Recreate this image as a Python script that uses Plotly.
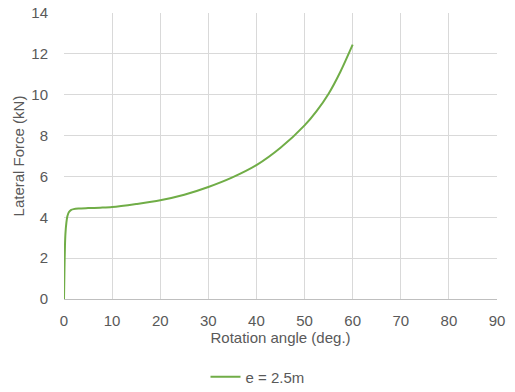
import plotly.graph_objects as go

angle = [0, 0.1, 0.2, 0.3, 0.5, 0.7, 1.0, 1.5, 2, 3, 5, 7.5, 10, 15, 20, 25, 30, 35, 40, 45, 50, 52.5, 55, 57.5, 60]
force = [0, 1.5, 2.6, 3.2, 3.75, 4.05, 4.25, 4.36, 4.4, 4.43, 4.45, 4.47, 4.5, 4.65, 4.83, 5.1, 5.48, 5.95, 6.55, 7.4, 8.5, 9.2, 10.05, 11.15, 12.45]
series_name = "e = 2.5m"

fig = go.Figure()
fig.add_trace(go.Scatter(x=angle, y=force, mode="lines", name=series_name,
                         line=dict(color="#70AD47", width=2, shape="spline", smoothing=0.8)))

font = dict(family="Liberation Sans, Arial, sans-serif", color="#595959", size=15)
fig.update_layout(
    width=515, height=392, autosize=False,
    margin=dict(l=64, r=18, t=13, b=93),
    paper_bgcolor="white", plot_bgcolor="white",
    font=font,
    showlegend=True,
    legend=dict(orientation="h", x=0.5, xanchor="center", xref="container",
                y=0.038, yanchor="middle", yref="container",
                font=dict(size=15, color="#595959"), itemwidth=30),
    xaxis=dict(range=[0, 90], dtick=10, showgrid=True, gridcolor="#D9D9D9", gridwidth=1,
               zeroline=False, showline=True, linecolor="#BFBFBF", linewidth=1,
               ticks="outside", ticklen=8, tickcolor="rgba(0,0,0,0)",
               tickfont=dict(size=15), automargin=False,
               title=dict(text="Rotation angle (deg.)", font=dict(size=15), standoff=4)),
    yaxis=dict(range=[0, 14], dtick=2, showgrid=True, gridcolor="#D9D9D9", gridwidth=1,
               zeroline=False, showline=False,
               ticks="outside", ticklen=12, tickcolor="rgba(0,0,0,0)",
               tickfont=dict(size=15), automargin=False,
               title=dict(text="Lateral Force (kN)", font=dict(size=15), standoff=3)),
)
post = "document.body.style.margin='0';document.body.style.padding='0';document.body.style.overflow='hidden';"
fig.write_html("out.html", post_script=post,
               config={"responsive": False, "displayModeBar": False})
